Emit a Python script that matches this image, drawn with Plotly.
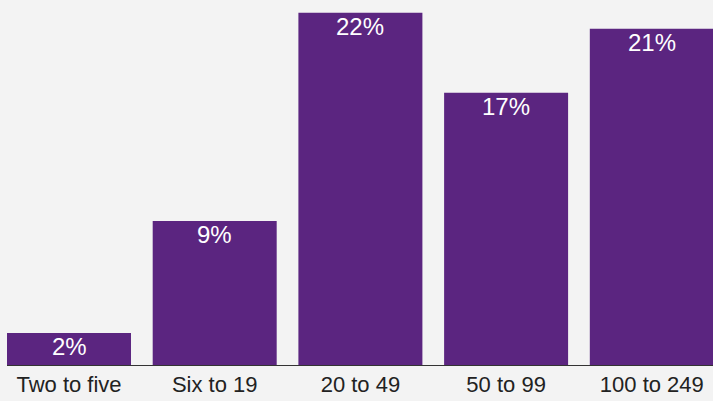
import plotly.graph_objects as go

# Share of respondents by organisation size
categories = ["Two to five", "Six to 19", "20 to 49", "50 to 99", "100 to 249"]
shares = [2, 9, 22, 17, 21]
labels = [f"{v}%" for v in shares]

PURPLE = "#5b2580"
BG = "#f3f3f3"
FONT = "Liberation Sans, Arial, Helvetica, sans-serif"

xs = list(range(len(categories)))

fig = go.Figure(
    go.Bar(
        x=xs,
        y=shares,
        marker=dict(color=PURPLE, line=dict(width=0)),
        hoverinfo="skip",
    )
)

# Value labels tucked just inside the top of each bar
for x, v, lab in zip(xs, shares, labels):
    fig.add_annotation(
        x=x,
        y=v,
        text=lab,
        showarrow=False,
        yanchor="top",
        xanchor="center",
        yshift=2,
        font=dict(family=FONT, size=24, color="white"),
    )

fig.update_layout(
    width=713,
    height=401,
    margin=dict(l=7, r=0, t=0, b=36),
    paper_bgcolor=BG,
    plot_bgcolor=BG,
    bargap=0.149,
    showlegend=False,
    font=dict(family=FONT, color="#222222"),
)

fig.update_xaxes(
    tickmode="array",
    tickvals=xs,
    ticktext=categories,
    range=[-0.4255, 4.42],
    showgrid=False,
    zeroline=False,
    showline=True,
    linecolor="#333333",
    linewidth=1,
    ticks="",
    tickfont=dict(family=FONT, size=22, color="#222222"),
    fixedrange=True,
)

fig.update_yaxes(
    range=[0, 22.8],
    showgrid=False,
    zeroline=False,
    showticklabels=False,
    showline=False,
    fixedrange=True,
)

fig.write_html("out.html")
